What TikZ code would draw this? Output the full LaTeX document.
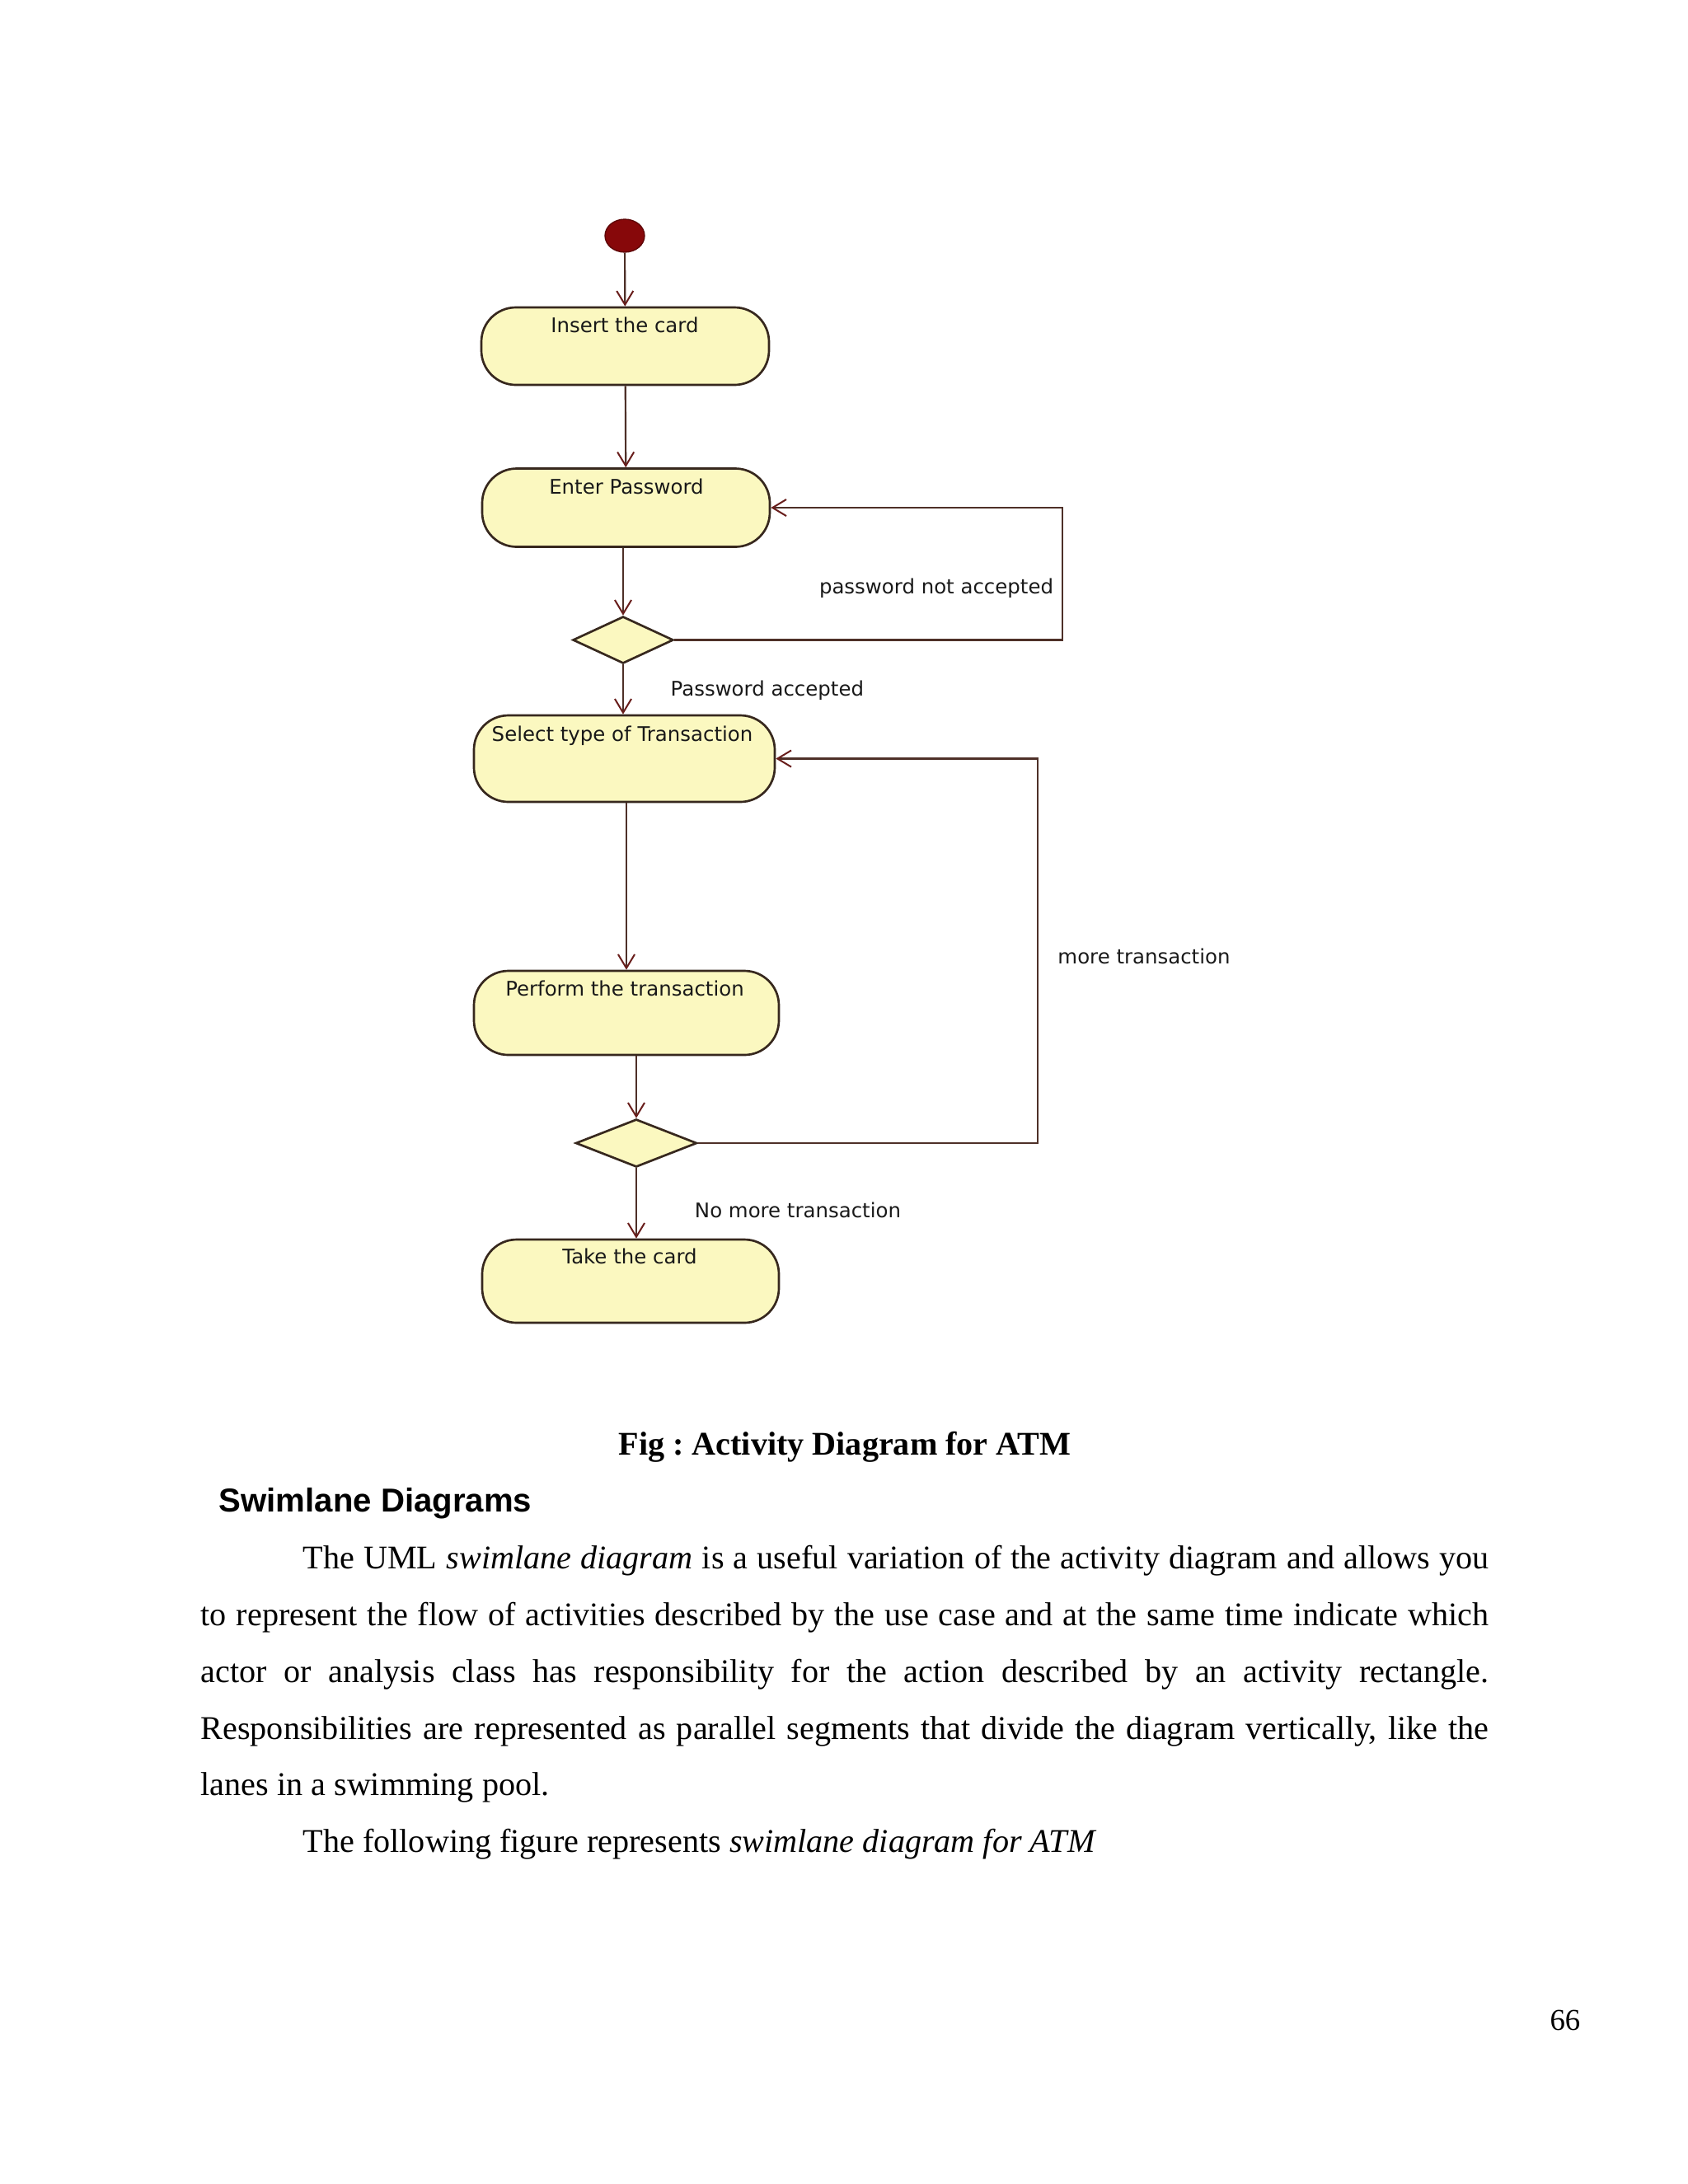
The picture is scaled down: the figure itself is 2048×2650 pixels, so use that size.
\documentclass[tikz,border=0pt]{standalone}
\usepackage{fontspec}
\setmainfont{Liberation Serif}
\newfontfamily\diafont{DejaVu Sans}
\newfontfamily\headfont{Liberation Sans}
\usetikzlibrary{arrows.meta,shapes.geometric}
\frenchspacing
\def\pxu{0.29883pt}
\definecolor{boxfill}{RGB}{251,248,192}
\definecolor{boxline}{RGB}{55,40,30}
\definecolor{flowline}{RGB}{78,48,40}
\definecolor{tipcol}{RGB}{105,30,28}
\definecolor{startcol}{RGB}{135,8,10}
\begin{document}
\begin{tikzpicture}[x=0.29883pt,y=-0.29883pt,
  activity/.style={draw=boxline, fill=boxfill, line width=0.8pt, rectangle, rounded corners=12.5pt, inner sep=0pt},
  decision/.style={draw=boxline, fill=boxfill, line width=0.8pt, diamond, inner sep=0pt},
  dtext/.style={font=\diafont\fontsize{7.3}{9}\selectfont, inner sep=0pt, anchor=base, text=black!90},
  flow/.style={draw=flowline, line width=0.65pt, -{Straight Barb[length=5pt,width=6pt,line width=0.6pt,color=tipcol]}},
  body/.style={font=\fontsize{12}{14}\selectfont, inner sep=0pt, anchor=base west}]
\fill[white] (0,0) rectangle (2048,2650);
\useasboundingbox (0,0) rectangle (2048,2650);

% nodes
\node[ellipse, fill=startcol, draw=startcol!70!black, line width=0.4pt, minimum width=48*\pxu, minimum height=40*\pxu, inner sep=0pt] (start) at (758,286) {};
\node[activity, minimum width=349*\pxu, minimum height=94*\pxu] (insert) at (758.5,420) {};
\node[activity, minimum width=349*\pxu, minimum height=95*\pxu] (enter) at (759.5,616) {};
\node[decision, minimum width=122*\pxu, minimum height=57*\pxu] (d1) at (756,776.5) {};
\node[activity, minimum width=365*\pxu, minimum height=105*\pxu] (select) at (757.5,920.5) {};
\node[activity, minimum width=370*\pxu, minimum height=102*\pxu] (perform) at (760,1229) {};
\node[decision, minimum width=147*\pxu, minimum height=58*\pxu] (d2) at (772,1387) {};
\node[activity, minimum width=360*\pxu, minimum height=101*\pxu] (take) at (765,1554.5) {};

\coordinate (c1) at (1289,776.5);
\coordinate (c2) at (1259,1387);

% texts in boxes
\node[dtext] (tinsert) at (758,403) {Insert the card};
\node[dtext] (tenter) at (760,599) {Enter Password};
\node[dtext] (tselect) at (755,899) {Select type of Transaction};
\node[dtext] (tperform) at (758,1208) {Perform the transaction};
\node[dtext] (ttake) at (764,1533) {Take the card};

% guard labels
\node[dtext] (lnot) at (1136,720) {password not accepted};
\node[dtext, anchor=base west] (lacc) at (813,844) {Password accepted};
\node[dtext] (lmore) at (1388,1169) {more transaction};
\node[dtext] (lnomore) at (968,1477) {No more transaction};

% connectors
\draw[flow] (start) -- (insert);
\draw[flow] (insert) -- (enter);
\draw[flow] (d1.north |- enter.south) -- (d1.north);
\draw[flow] (d1.east) -- (c1) |- (enter.east);
\draw[flow] (d1.south) -- (d1.south |- select.north);
\draw[flow] (perform.north |- select.south) -- (perform.north);
\draw[flow] (d2.north |- perform.south) -- (d2.north);
\draw[flow] (d2.east) -- (c2) |- (select.east);
\draw[flow] (d2.south) -- (d2.south |- take.north);

% page text
\node[inner sep=0pt, anchor=base, font=\fontsize{12}{14}\selectfont\bfseries] (caption) at (1025,1765) {Fig : Activity Diagram for ATM};
\node[inner sep=0pt, anchor=base west, font=\headfont\fontsize{12}{14}\selectfont\bfseries] (heading) at (265,1834) {Swimlane Diagrams};
\node[body] (p1) at (367,1903) {\makebox[430pt][s]{The UML \textit{swimlane diagram} is a useful variation of the activity diagram and allows you}};
\node[body] (p2) at (243,1972) {\makebox[467pt][s]{to represent the flow of activities described by the use case and at the same time indicate which}};
\node[body] (p3) at (243,2041) {\makebox[467pt][s]{actor or analysis class has responsibility for the action described by an activity rectangle.}};
\node[body] (p4) at (243,2110) {\makebox[467pt][s]{Responsibilities are represented as parallel segments that divide the diagram vertically, like the}};
\node[body] (p5) at (243,2178) {lanes in a swimming pool.};
\node[body] (p6) at (367,2247) {The following figure represents \textit{swimlane diagram for ATM}};
\node[inner sep=0pt, anchor=base east, font=\fontsize{11}{13}\selectfont] (pagenum) at (1918,2463) {66};
\end{tikzpicture}
\end{document}
